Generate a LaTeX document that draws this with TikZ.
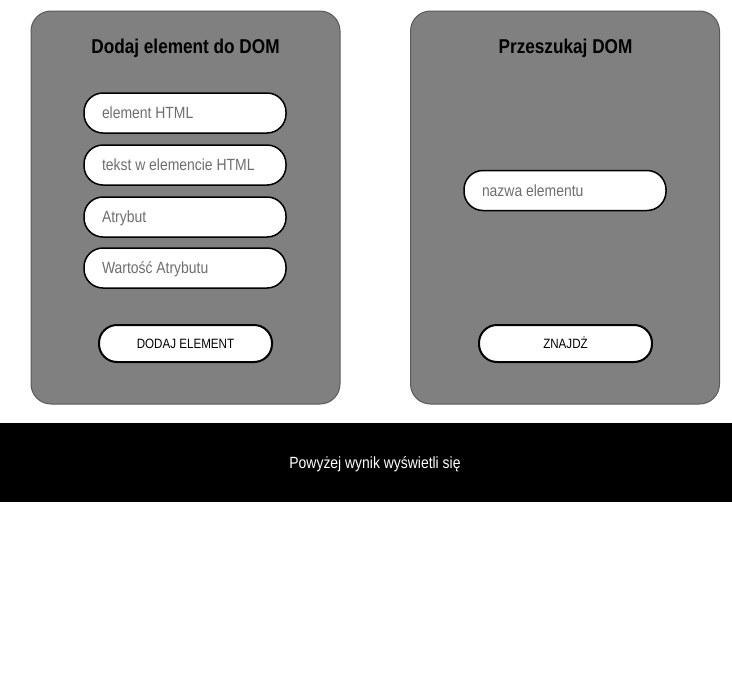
\documentclass[tikz,border=0pt]{standalone}
\usepackage{fontspec}
\setmainfont{Liberation Sans}
\newfontfamily\cond[FakeStretch=0.86]{Liberation Sans}
\definecolor{panelgray}{HTML}{808080}
\definecolor{panelborder}{HTML}{5A5A5A}
\definecolor{placeholder}{HTML}{6E6E6E}
\newcommand\fldtext[1]{\makebox[166pt][l]{#1}}
\begin{document}
\begin{tikzpicture}[x=1pt,y=-1pt,
  panel/.style={draw=panelborder, line width=1pt, fill=panelgray, rounded corners=20pt,
    minimum width=309pt, minimum height=393pt, inner sep=0pt},
  title/.style={anchor=base, text=black, font=\cond\bfseries\fontsize{20}{24}\selectfont},
  field/.style={draw=black, line width=1.5pt, fill=white, rounded corners=19pt,
    minimum width=202pt, minimum height=40pt,
    inner xsep=18pt, inner ysep=0pt, text=placeholder,
    font=\cond\fontsize{16.2}{19}\selectfont, text height=11.5pt, text depth=0pt},
  button/.style={draw=black, line width=2pt, fill=white, rounded corners=18pt,
    minimum width=173pt, minimum height=37pt, inner sep=0pt, text=black,
    font=\cond\fontsize{13.5}{16}\selectfont, text height=9.7pt, text depth=0pt},
  bar/.style={fill=black, draw=none, minimum width=732pt, minimum height=79pt, inner sep=0pt},
  bartext/.style={text=white, font=\cond\fontsize{16.2}{19}\selectfont, text height=11.5pt, text depth=0pt, inner sep=0pt}
]
\useasboundingbox (0,0) rectangle (732,697);
\fill[white] (0,0) rectangle (732,697);

% left panel
\node[panel] (pleft) at (185.5,207.5) {};
\node[title] (tleft) at (185.5,53) {Dodaj element do DOM};
\node[field] (f1) at (185,113) {\fldtext{element HTML}};
\node[field] (f2) at (185,165) {\fldtext{tekst w elemencie HTML}};
\node[field] (f3) at (185,217) {\fldtext{Atrybut}};
\node[field] (f4) at (185,268) {\fldtext{Wartość Atrybutu}};
\node[button] (badd) at (185.5,343.5) {DODAJ ELEMENT};

% right panel
\node[panel] (pright) at (565,207.5) {};
\node[title] (tright) at (565.5,53) {Przeszukaj DOM};
\node[field] (f5) at (565,190.5) {\fldtext{nazwa elementu}};
\node[button] (bfind) at (565.5,343.5) {ZNAJDŻ};

% bottom bar
\node[bar] (bbar) at (366,462.5) {};
\node[bartext] (btext) at (375,462.5) {Powyżej wynik wyświetli się};
\end{tikzpicture}
\end{document}
